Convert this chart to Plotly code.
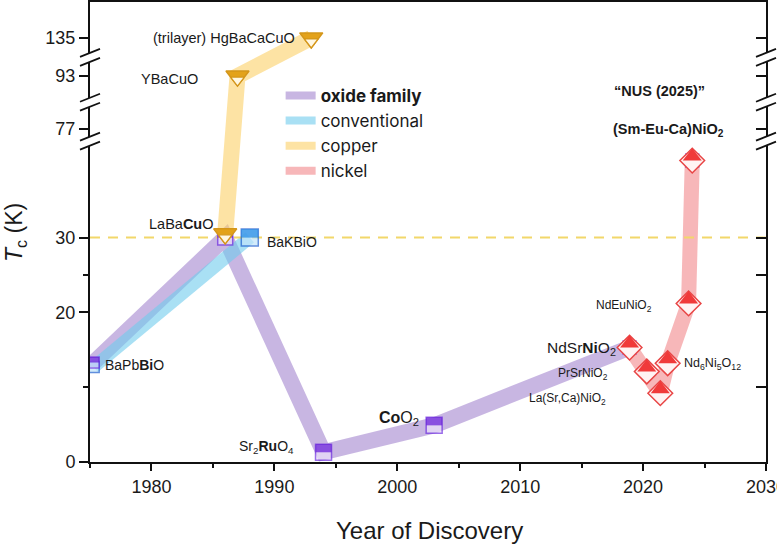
import plotly.graph_objects as go

# ---------------- data ----------------
oxide_year = [1975.3, 1986.0, 1994.0, 2003.0, 2018.9, 2024.0]
oxide_tc = [13.3, 30.0, 1.3, 4.9, 15.3, 40.3]
oxide_line_points = 5          # the lavender band stops at NdSrNiO2
oxide_labels = ["BaPb<b>Bi</b>O", "LaBa<b>Cu</b>O", "Sr<sub>2</sub><b>Ru</b>O<sub>4</sub>",
                "<b>Co</b>O<sub>2</sub>", "NdSr<b>Ni</b>O<sub>2</sub>", ""]

conv_year = [1975.3, 1988.0]
conv_tc = [12.7, 30.0]
conv_labels = ["", "BaKBiO"]

copper_year = [1986.0, 1987.0, 1993.0]
copper_tc = [30.5, 93.0, 135.0]
copper_labels = ["", "YBaCuO", "(trilayer) HgBaCaCuO"]

nickel_year = [2018.9, 2020.3, 2021.4, 2022.0, 2023.7, 2024.0]
nickel_tc = [15.3, 12.1, 9.2, 13.2, 21.2, 40.3]
nickel_labels = ["", "PrSrNiO<sub>2</sub>", "La(Sr,Ca)NiO<sub>2</sub>",
                 "Nd<sub>6</sub>Ni<sub>5</sub>O<sub>12</sub>", "NdEuNiO<sub>2</sub>",
                 "<b>(Sm-Eu-Ca)NiO<sub>2</sub></b>"]
nus_label = "<b>\u201cNUS (2025)\u201d</b>"

threshold_tc = 30
x_ticks = [1980, 1990, 2000, 2010, 2020, 2030]
y_major = [0, 20, 30, 77, 93, 135]
y_minor = [10, 25]
x_range = [1975, 2030]

# ---------------- broken y scale ----------------
# each segment: (Tc anchor, axis position of that anchor, upper Tc of segment)
SEGMENTS = [(0, 0.0, 43), (77, 44.5, 85), (93, 51.6, 110), (135, 56.7, 1e9)]
BREAKS = [42.9, 48.1, 54.1]          # axis positions of the break marks
Y_TOP = 61.5


def ax_y(tc):
    for anchor, pos, upper in SEGMENTS:
        if tc <= upper:
            return pos + (tc - anchor)
    return tc


def ys(tcs):
    return [ax_y(t) for t in tcs]


FONT = "Liberation Sans, Arial, sans-serif"
fig = go.Figure()

# ---------------- thick translucent family lines ----------------
line_styles = [
    ("<b>oxide family</b>", oxide_year[:oxide_line_points], oxide_tc[:oxide_line_points],
     "rgba(163,133,207,0.6)", 16),
    ("conventional", conv_year, conv_tc, "rgba(112,203,237,0.6)", 13),
    ("copper", copper_year, copper_tc, "rgba(252,208,103,0.6)", 16),
    ("nickel", nickel_year, nickel_tc, "rgba(242,135,138,0.6)", 15),
]
for name, xs_, tcs, col, w in line_styles:
    fig.add_trace(go.Scatter(x=xs_, y=ys(tcs), mode="lines", line=dict(color=col, width=w),
                             showlegend=False, hoverinfo="skip"))
# legend-only entries (thinner swatch)
for name, xs_, tcs, col, w in line_styles:
    fig.add_trace(go.Scatter(x=[None], y=[None], mode="lines", name=name,
                             line=dict(color=col, width=8), hoverinfo="skip"))

# 30 K reference line
fig.add_trace(go.Scatter(x=x_range, y=[ax_y(threshold_tc)] * 2, mode="lines",
                         line=dict(color="#f2d76a", width=2, dash="10px,8px"),
                         showlegend=False, hoverinfo="skip"))


# ---------------- half-filled markers ----------------
def half_square(xs_, tcs, sizes, top, bottom, edge):
    fig.add_trace(go.Scatter(x=xs_, y=ys(tcs), mode="markers", showlegend=False, hoverinfo="skip",
                             marker=dict(symbol="square", size=sizes, color=bottom,
                                         line=dict(color=edge, width=1.5))))
    fig.add_trace(go.Scatter(x=xs_, y=ys(tcs), mode="markers", showlegend=False, hoverinfo="skip",
                             marker=dict(symbol="line-ew", size=[s / 1.4 for s in sizes], angle=180,
                                         standoff=[s / 4 for s in sizes],
                                         line=dict(color=top, width=[s / 2 for s in sizes]))))


def half_triangle(xs_, tcs, size, top, bottom, edge):
    fig.add_trace(go.Scatter(x=xs_, y=ys(tcs), mode="markers", showlegend=False, hoverinfo="skip",
                             marker=dict(symbol="triangle-down", size=size, color=top,
                                         line=dict(color=edge, width=1.5))))
    fig.add_trace(go.Scatter(x=xs_, y=ys(tcs), mode="markers", showlegend=False, hoverinfo="skip",
                             marker=dict(symbol="triangle-down", size=size * 0.6, color=bottom,
                                         standoff=size * 0.2, line=dict(color=edge, width=1.3))))


def half_diamond(xs_, tcs, size, top, bottom, edge):
    fig.add_trace(go.Scatter(x=xs_, y=ys(tcs), mode="markers", showlegend=False, hoverinfo="skip",
                             marker=dict(symbol="diamond", size=size, color=bottom,
                                         line=dict(color=edge, width=1.5))))
    st = size * 0.867
    fig.add_trace(go.Scatter(x=xs_, y=ys(tcs), mode="markers", showlegend=False, hoverinfo="skip",
                             marker=dict(symbol="triangle-down", size=st, angle=180, standoff=st / 4,
                                         color=top, line=dict(width=0))))


half_square(conv_year, conv_tc, [11, 17], "#1e88e5", "#bfe3fa", "#1f5fcf")
half_square(oxide_year, oxide_tc, [11, 15, 16, 16, 13, 13], "#6418d8", "#ece2fb", "#7030e0")
half_triangle(copper_year, copper_tc, 20, "#e3a21a", "#fff7e2", "#d4961a")
half_diamond(nickel_year, nickel_tc, 19, "#f03a3a", "#fff3f3", "#e84545")

# dummy trace for the right-hand mirrored axis
fig.add_trace(go.Scatter(x=[None], y=[None], yaxis="y2", showlegend=False, hoverinfo="skip"))

# ---------------- labels ----------------
ann = []


def label(text, x, tc, xanchor, dx, dy, size, color="#1a1a1a"):
    ann.append(dict(text=text, x=x, y=ax_y(tc), xref="x", yref="y", xanchor=xanchor,
                    yanchor="middle", xshift=dx, yshift=dy, showarrow=False,
                    font=dict(family=FONT, size=size, color=color)))


label(oxide_labels[0], oxide_year[0], oxide_tc[0], "left", 9, -2, 14)
label(oxide_labels[1], oxide_year[1], oxide_tc[1], "right", -9, 14, 14.5)
label(oxide_labels[2], oxide_year[2], oxide_tc[2], "right", -28, 5, 14)
label(oxide_labels[3], oxide_year[3], oxide_tc[3], "right", -13, 7, 16)
label(oxide_labels[4], oxide_year[4], oxide_tc[4], "right", -12, -1, 15.5)
label(conv_labels[1], conv_year[1], conv_tc[1], "left", 15, -4, 14)
label(copper_labels[1], copper_year[1], copper_tc[1], "right", -37, -3, 14.5)
label(copper_labels[2], copper_year[2], copper_tc[2], "right", -14, 0, 14.5)
label(nickel_labels[1], nickel_year[1], nickel_tc[1], "right", -37, -2, 12)
label(nickel_labels[2], nickel_year[2], nickel_tc[2], "right", -52, -6, 12)
label(nickel_labels[3], nickel_year[3], nickel_tc[3], "left", 14, -1, 12.5)
label(nickel_labels[4], nickel_year[4], nickel_tc[4], "right", -35, -3, 12)
label(nickel_labels[5], nickel_year[5], nickel_tc[5], "center", -24, 31, 14.5)
label(nus_label, nickel_year[5], nickel_tc[5], "center", -33, 70, 14.5)

# axis titles
ann.append(dict(text="Year of Discovery", x=0.5015, y=-0.148, xref="paper", yref="paper",
                xanchor="center", yanchor="middle", showarrow=False,
                font=dict(family=FONT, size=24, color="#1a1a1a")))
ann.append(dict(text="<i>T</i><sub>c</sub> (K)", x=-0.111, y=0.5, xref="paper", yref="paper",
                xanchor="center", yanchor="middle", textangle=-90, showarrow=False,
                font=dict(family=FONT, size=23, color="#1a1a1a")))

# ---------------- axis break marks ----------------
shapes = []
px_x = 1.0 / 676.0          # one pixel in paper-x units
unit = Y_TOP / 461.0        # one pixel in axis-y units
hw = 10 * px_x
rise = 8 * unit
gap = 9 * unit
for side in (0.0, 1.0):
    for b in BREAKS:
        lo, hi = b - gap / 2, b + gap / 2
        shapes.append(dict(type="path", xref="paper", yref="y", layer="above",
                           path=f"M{side - 5 * px_x},{lo - rise * 0.25} L{side + 5 * px_x},{lo + rise * 0.25} "
                                f"L{side + 5 * px_x},{hi + rise * 0.25} L{side - 5 * px_x},{hi - rise * 0.25} Z",
                           fillcolor="white", line=dict(width=0)))
        for yc in (lo, hi):
            shapes.append(dict(type="line", xref="paper", yref="y", layer="above",
                               x0=side - hw, x1=side + hw, y0=yc - rise / 2, y1=yc + rise / 2,
                               line=dict(color="#111", width=1.8)))

fig.update_layout(
    width=777, height=547,
    margin=dict(l=90, r=11, t=2, b=85, autoexpand=False),
    paper_bgcolor="white", plot_bgcolor="white",
    font=dict(family=FONT, color="#1a1a1a"),
    showlegend=True,
    legend=dict(x=0.282, y=0.835, xanchor="left", yanchor="top",
                font=dict(family="Inter, Roboto, sans-serif", size=17, color="#1a1a1a"),
                bgcolor="rgba(0,0,0,0)", itemwidth=30, tracegroupgap=0),
    xaxis=dict(range=x_range, tickmode="array", tickvals=x_ticks, ticks="outside",
               ticklen=7, tickwidth=1.8, tickcolor="#111", showline=True, linecolor="#111",
               linewidth=2, mirror=True, showgrid=False, zeroline=False, automargin=False,
               ticklabeloverflow="allow",
               tickfont=dict(family=FONT, size=18, color="#1a1a1a"),
               minor=dict(dtick=5, tick0=1975, ticks="outside", ticklen=4, tickwidth=1.5,
                          tickcolor="#111", showgrid=False)),
    yaxis=dict(range=[0, Y_TOP], tickmode="array", tickvals=ys(y_major),
               ticktext=[str(v) for v in y_major], ticks="outside", ticklen=9, tickwidth=1.8,
               tickcolor="#111", showline=True, linecolor="#111", linewidth=2,
               showgrid=False, zeroline=False, automargin=False,
               tickfont=dict(family=FONT, size=18, color="#1a1a1a"),
               minor=dict(tickmode="array", tickvals=ys(y_minor), ticks="outside", ticklen=5,
                          tickwidth=1.5, tickcolor="#111", showgrid=False)),
    yaxis2=dict(overlaying="y", side="right", range=[0, Y_TOP], tickmode="array",
                tickvals=ys(y_major), ticks="inside", ticklen=10, tickwidth=1.8, tickcolor="#111",
                showticklabels=False, showline=True, linecolor="#111", linewidth=2,
                showgrid=False, zeroline=False, automargin=False,
                minor=dict(tickmode="array", tickvals=ys(y_minor), ticks="inside", ticklen=10,
                           tickwidth=1.5, tickcolor="#111", showgrid=False)),
    annotations=ann,
    shapes=shapes,
)

fig.write_html(
    "out.html",
    config={"displayModeBar": False},
    post_script="document.documentElement.style.margin='0';document.body.style.margin='0';"
                "document.body.style.overflow='hidden';document.documentElement.style.overflow='hidden';",
)
